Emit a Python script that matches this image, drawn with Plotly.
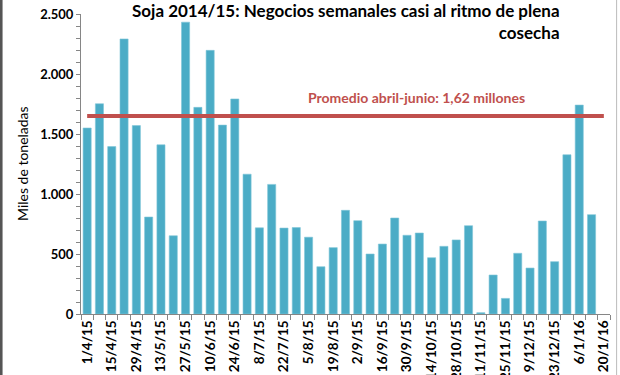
import plotly.graph_objects as go

semanas = ["1/4/15","8/4/15","15/4/15","22/4/15","29/4/15","6/5/15","13/5/15","20/5/15","27/5/15",
           "3/6/15","10/6/15","17/6/15","24/6/15","1/7/15","8/7/15","15/7/15","22/7/15","29/7/15",
           "5/8/15","12/8/15","19/8/15","26/8/15","2/9/15","9/9/15","16/9/15","23/9/15","30/9/15",
           "7/10/15","14/10/15","21/10/15","28/10/15","4/11/15","11/11/15","18/11/15","25/11/15",
           "2/12/15","9/12/15","16/12/15","23/12/15","30/12/15","6/1/16","13/1/16","20/1/16"]
negocios = [1550, 1752, 1395, 2292, 1570, 808, 1410, 652, 2432,
            1722, 2197, 1574, 1792, 1165, 718, 1080, 716, 720,
            640, 394, 553, 864, 778, 500, 583, 800, 656,
            675, 469, 564, 617, 736, 11, 325, 130,
            506, 383, 775, 436, 1327, 1741, 828, None]
promedio = 1650
promedio_texto = "Promedio abril-junio: 1,62 millones"
titulo = "Soja 2014/15: Negocios semanales casi al ritmo de plena<br>cosecha"
y_ticks = [0, 500, 1000, 1500, 2000, 2500]
y_ticktext = ["0", "500", "1.000", "1.500", "2.000", "2.500"]
x_ticktext = [s if i % 2 == 0 else "" for i, s in enumerate(semanas)]

FONT = "Lato"

fig = go.Figure()
fig.add_trace(go.Bar(
    x=semanas, y=negocios,
    marker=dict(color="#4BACC6", line=dict(color="#7FC6D9", width=0.6)),
    width=0.66,
))
fig.add_trace(go.Scatter(
    x=semanas, y=[promedio] * len(semanas), mode="lines",
    line=dict(color="#C0504D", width=4.2),
))

fig.update_layout(
    width=620, height=375,
    margin=dict(l=81, r=10, t=14, b=61),
    paper_bgcolor="white", plot_bgcolor="white",
    showlegend=False,
    font=dict(family=FONT, color="black"),
    bargap=0.3,
)
fig.update_xaxes(
    type="category",
    tickmode="array", tickvals=semanas, ticktext=x_ticktext,
    tickson="boundaries",
    tickangle=-90,
    tickfont=dict(family=FONT, size=13.5, color="black", weight="bold"),
    ticks="outside", ticklen=5, tickcolor="#868686",
    showline=True, linecolor="#868686", linewidth=1,
    showgrid=False, automargin=False,
)
fig.update_yaxes(
    range=[0, 2500],
    tickmode="array", tickvals=y_ticks, ticktext=y_ticktext,
    tickfont=dict(family=FONT, size=13, color="black", weight="bold"),
    ticks="outside", ticklen=4, tickcolor="#868686",
    minor=dict(dtick=100, ticks="outside", ticklen=4, tickcolor="#868686", showgrid=False),
    showline=True, linecolor="#868686", linewidth=1,
    showgrid=False, zeroline=False, automargin=False,
)

fig.add_annotation(
    text=titulo, xref="paper", yref="paper", x=0.91, y=1.055,
    xanchor="right", yanchor="top", align="right", showarrow=False,
    font=dict(family=FONT, size=17, color="black", weight="bold"),
)
fig.add_annotation(
    text=promedio_texto, xref="paper", yref="paper", x=0.635, y=0.723,
    xanchor="center", yanchor="middle", showarrow=False,
    font=dict(family=FONT, size=14, color="#C0504D", weight="bold"),
)
fig.add_annotation(
    text="Miles de toneladas", xref="paper", yref="paper", x=-0.1115, y=0.5,
    xanchor="center", yanchor="middle", textangle=-90, showarrow=False,
    font=dict(family=FONT, size=14, color="black"),
)
# picture frame edges
fig.add_shape(type="line", xref="paper", yref="paper", x0=-0.1511, x1=-0.1511, y0=-0.3, y1=1.1,
              line=dict(color="#555555", width=3))
fig.add_shape(type="line", xref="paper", yref="paper", x0=1.0125, x1=1.0125, y0=-0.3, y1=1.1,
              line=dict(color="#BBBBBB", width=1))

fig.write_html("out.html", config={"displayModeBar": False},
               post_script="document.body.style.margin='0px';")
